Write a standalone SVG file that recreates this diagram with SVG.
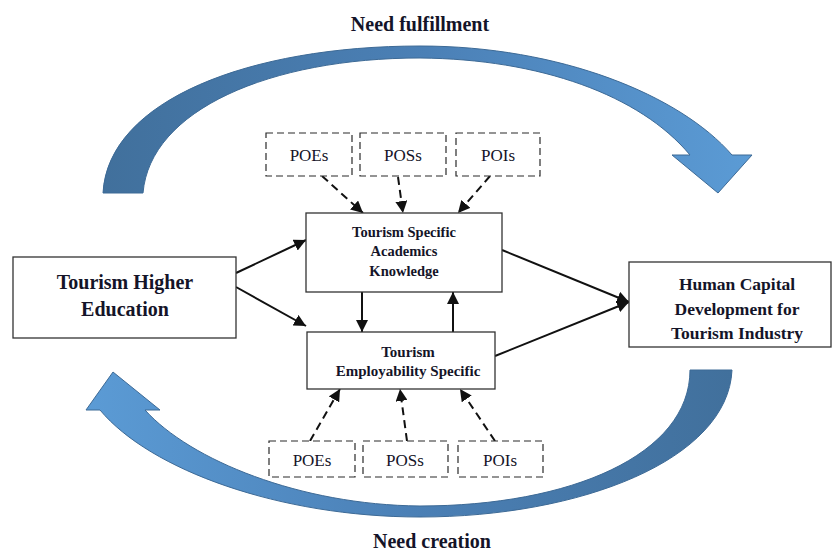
<svg xmlns="http://www.w3.org/2000/svg" width="832" height="551" viewBox="0 0 832 551">
<style>
.box{fill:#fff;stroke:#333;stroke-width:1.3}
.dbox{fill:#fff;stroke:#2a2a2a;stroke-width:1.2;stroke-dasharray:7 4}
.t{font-family:"Liberation Serif","Times New Roman",serif;font-weight:bold;fill:#141428;text-anchor:middle}
.p{font-family:"Liberation Serif","Times New Roman",serif;font-size:17px;fill:#141428;text-anchor:middle}
.c{stroke:#111;stroke-width:2;fill:none;marker-end:url(#ah)}
.dc{stroke:#111;stroke-width:2;fill:none;stroke-dasharray:8 5;marker-end:url(#ah)}
.big{stroke:#3d6a96;stroke-width:1}
</style>
<defs>
<marker id="ah" viewBox="0 0 10 10" refX="10" refY="5" markerWidth="6" markerHeight="6" orient="auto" markerUnits="strokeWidth">
<path d="M0,0 L10,5 L0,10 Z" fill="#111"/>
</marker>
<linearGradient id="gTop" x1="0" y1="0" x2="1" y2="0">
<stop offset="0" stop-color="#41709c"/>
<stop offset="0.5" stop-color="#4b80b6"/>
<stop offset="1" stop-color="#5b9bd5"/>
</linearGradient>
<linearGradient id="gBot" x1="0" y1="0" x2="1" y2="0">
<stop offset="0" stop-color="#5b9bd5"/>
<stop offset="0.5" stop-color="#4b80b6"/>
<stop offset="1" stop-color="#41709c"/>
</linearGradient>
</defs>

<g id="curved-arrows">
<path class="big" fill="url(#gTop)" d="M103,193 C108,100 250,46 420,46 C560,46 680,95 732,155 L752,155 L718,193 L672,155 L690,155 C640,95 540,59 420,58 C270,58 150,110 143,193 Z"/>
<path class="big" fill="url(#gBot)" d="M732,370 C728,460 580,517 420,517 C280,517 150,470 100,410 L86,410 L113,372 L160,410 L145,410 C190,460 300,505 420,506 C570,506 690,455 690,370 Z"/>
<text class="t" x="420" y="31" font-size="20">Need fulfillment</text>
<text class="t" x="432" y="548" font-size="20">Need creation</text>
</g>

<g id="connectors">
<line class="c" x1="236" y1="273" x2="306" y2="240"/>
<line class="c" x1="236" y1="287" x2="306" y2="326"/>
<line class="c" x1="502" y1="250" x2="629" y2="302"/>
<line class="c" x1="495" y1="356" x2="629" y2="302"/>
<line class="c" x1="362" y1="292" x2="362" y2="332"/>
<line class="c" x1="453" y1="332" x2="453" y2="292"/>
<line class="dc" x1="322" y1="176" x2="363" y2="213"/>
<line class="dc" x1="398" y1="177" x2="403" y2="213"/>
<line class="dc" x1="490" y1="176" x2="458" y2="213"/>
<line class="dc" x1="310" y1="441" x2="340" y2="389"/>
<line class="dc" x1="407" y1="441" x2="400" y2="389"/>
<line class="dc" x1="495" y1="441" x2="460" y2="389"/>
</g>

<g id="tourism-higher-education">
<rect class="box" x="13" y="257" width="223" height="81"/>
<text class="t" x="125" y="289" font-size="20">Tourism Higher</text>
<text class="t" x="125" y="316" font-size="20">Education</text>
</g>

<g id="tourism-specific-academics">
<rect class="box" x="306" y="213" width="196" height="79"/>
<text class="t" x="404" y="237" font-size="14.5">Tourism Specific</text>
<text class="t" x="404" y="256" font-size="14.5">Academics</text>
<text class="t" x="404" y="276" font-size="14.5">Knowledge</text>
</g>

<g id="tourism-employability">
<rect class="box" x="307" y="332" width="188" height="57"/>
<text class="t" x="408" y="357" font-size="15">Tourism</text>
<text class="t" x="408" y="376" font-size="15">Employability Specific</text>
</g>

<g id="human-capital">
<rect class="box" x="629" y="262" width="202" height="85"/>
<text class="t" x="737" y="290" font-size="17.5">Human Capital</text>
<text class="t" x="737" y="315" font-size="17.5">Development for</text>
<text class="t" x="737" y="339" font-size="17.5">Tourism Industry</text>
</g>

<g id="top-poes"><rect class="dbox" x="266" y="133" width="86" height="43"/><text class="p" x="309" y="161">POEs</text></g>
<g id="top-poss"><rect class="dbox" x="360" y="133" width="86" height="43"/><text class="p" x="403" y="161">POSs</text></g>
<g id="top-pois"><rect class="dbox" x="456" y="133" width="84" height="43"/><text class="p" x="498" y="161">POIs</text></g>
<g id="bottom-poes"><rect class="dbox" x="269" y="441" width="86" height="36"/><text class="p" x="312" y="466">POEs</text></g>
<g id="bottom-poss"><rect class="dbox" x="363" y="441" width="85" height="36"/><text class="p" x="405" y="466">POSs</text></g>
<g id="bottom-pois"><rect class="dbox" x="458" y="441" width="85" height="36"/><text class="p" x="500" y="466">POIs</text></g>
</svg>
